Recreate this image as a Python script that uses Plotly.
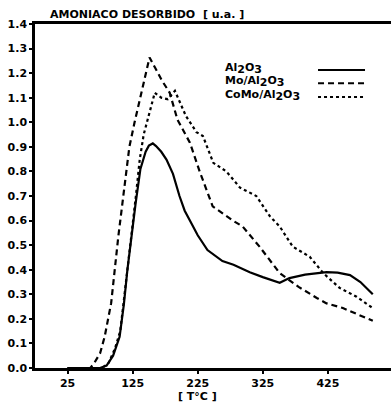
import plotly.graph_objects as go

# Data (temperature in °C, desorbed ammonia in a.u.)
t_al = [25, 75, 85, 95, 105, 111.6, 117, 123, 129.6, 137, 145, 150, 156, 161, 169, 177, 187, 197, 205, 213, 225, 240, 263, 280, 305, 325, 351, 366, 390, 423, 440, 459, 475, 494]
v_al = [0, 0, 0.01, 0.05, 0.127, 0.26, 0.40, 0.535, 0.67, 0.81, 0.88, 0.905, 0.914, 0.903, 0.88, 0.848, 0.79, 0.70, 0.64, 0.60, 0.54, 0.48, 0.435, 0.42, 0.39, 0.37, 0.347, 0.366, 0.38, 0.39, 0.388, 0.378, 0.35, 0.30]

t_mo = [25, 60, 66, 75, 82, 92, 103, 109, 115, 120, 128, 136, 144, 151, 160, 170, 182, 194, 213, 228, 248, 279, 294, 320, 351, 380, 408, 423, 448, 470, 494]
v_mo = [0, 0, 0.02, 0.06, 0.127, 0.264, 0.535, 0.67, 0.81, 0.90, 1.00, 1.09, 1.18, 1.264, 1.22, 1.17, 1.12, 1.01, 0.917, 0.80, 0.658, 0.60, 0.576, 0.494, 0.386, 0.33, 0.285, 0.263, 0.244, 0.22, 0.192]

t_co = [25, 78, 88, 98, 106, 112, 118, 124, 130, 136, 142, 148, 159, 169, 179, 190, 207, 223, 233, 249, 269, 290, 315, 336, 351, 371, 397, 418, 443, 469, 494]
v_co = [0, 0, 0.02, 0.08, 0.15, 0.28, 0.42, 0.56, 0.70, 0.85, 0.95, 1.01, 1.12, 1.10, 1.094, 1.128, 1.025, 0.96, 0.944, 0.835, 0.80, 0.734, 0.70, 0.617, 0.576, 0.494, 0.453, 0.386, 0.326, 0.29, 0.244]

x_ticks = [25, 125, 225, 325, 425]
y_ticks = [0.0, 0.1, 0.2, 0.3, 0.4, 0.5, 0.6, 0.7, 0.8, 0.9, 1.0, 1.1, 1.2, 1.3, 1.4]

def sub(d):
    return "<sub><span style='font-size:11px'>%s</span></sub>" % d

series = [
    ("Al" + sub("2") + "O" + sub("3"), t_al, v_al, "solid"),
    ("Mo/Al" + sub("2") + "O" + sub("3"), t_mo, v_mo, "6px,4px"),
    ("CoMo/Al" + sub("2") + "O" + sub("3"), t_co, v_co, "dot"),
]

FONT = "DejaVu Sans"
fig = go.Figure()
for name, t, v, dash in series:
    fig.add_trace(go.Scatter(x=t, y=v, mode="lines", name=name,
                             line=dict(color="black", width=2.2, dash=dash),
                             showlegend=False))

# Legend (text left, line sample right)
leg_y = [0.866, 0.828, 0.788]
for (name, t, v, dash), ly in zip(series, leg_y):
    fig.add_annotation(x=0.528, y=ly + 0.004, xref="paper", yref="paper", text="<b>" + name + "</b>",
                       showarrow=False, xanchor="left", yanchor="middle",
                       font=dict(family=FONT, size=11, color="black"))
    fig.add_shape(type="line", xref="paper", yref="paper", x0=0.795, x1=0.927, y0=ly, y1=ly,
                  line=dict(color="black", width=2, dash=dash))

fig.add_annotation(x=0.037, y=1.003, xref="paper", yref="paper",
                   text="<b>AMONIACO DESORBIDO  [ u.a. ]</b>", showarrow=False,
                   xanchor="left", yanchor="bottom",
                   font=dict(family=FONT, size=11, color="black"))

fig.add_annotation(x=225, y=-0.082, xref="x", yref="paper",
                   text="<b>[ T°C ]</b>", showarrow=False,
                   xanchor="center", yanchor="middle",
                   font=dict(family=FONT, size=11, color="black"))

fig.update_layout(
    width=391, height=404,
    margin=dict(l=35, r=0, t=24, b=36),
    paper_bgcolor="white", plot_bgcolor="white",
    font=dict(family=FONT, size=11, color="black"),
    xaxis=dict(range=[-25, 522], tickvals=x_ticks, ticktext=["<b>%d</b>" % v for v in x_ticks],
               showline=True, linecolor="black", linewidth=2.5, mirror=True,
               ticks="outside", ticklen=3, tickwidth=1.5, tickcolor="black",
               showgrid=False, zeroline=False),
    yaxis=dict(range=[0, 1.4], tickvals=y_ticks, ticktext=["<b>%.1f</b>" % v for v in y_ticks],
               showline=True, linecolor="black", linewidth=2.5,
               ticks="outside", ticklen=3, tickwidth=1.5, tickcolor="black",
               showgrid=False, zeroline=False),
)

fig.write_html("out.html", config={"displayModeBar": False},
               post_script="document.body.style.margin='0';document.body.style.overflow='hidden';")
